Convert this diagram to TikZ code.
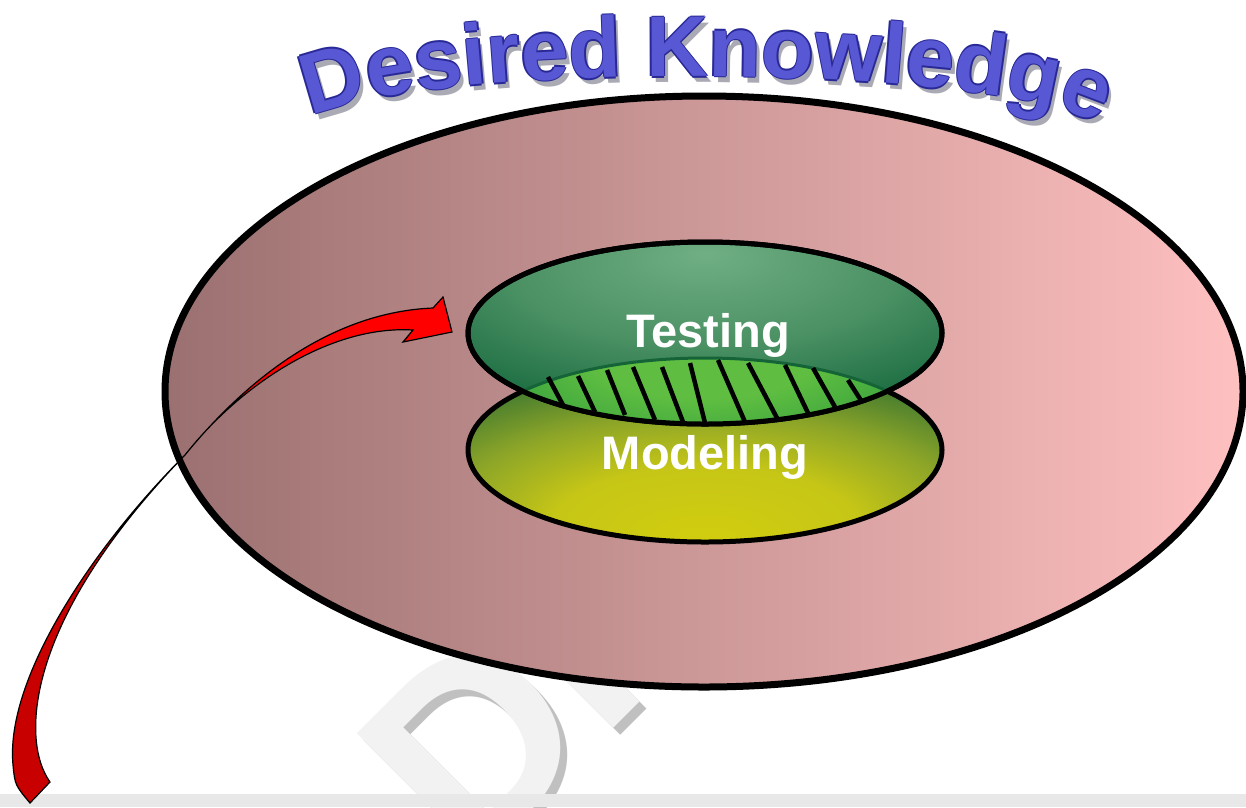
\documentclass[tikz,border=0pt]{standalone}
\usepackage{fontspec}
\setmainfont{Liberation Sans}
\usetikzlibrary{shapes.geometric,decorations.text}
\definecolor{titleblue}{RGB}{88,88,212}
\definecolor{titledark}{RGB}{40,40,150}
\definecolor{titleshadow}{RGB}{170,170,180}
\definecolor{roseL}{RGB}{155,112,112}
\definecolor{roseR}{RGB}{255,192,192}
\definecolor{lensline}{RGB}{20,100,55}
\definecolor{arrowred}{RGB}{255,0,0}
\definecolor{arrowdark}{RGB}{200,0,0}
\definecolor{wmlight}{RGB}{242,242,242}
\definecolor{wmdark}{RGB}{192,192,192}
\definecolor{barg}{RGB}{232,232,232}
\definecolor{tA}{RGB}{112,175,132}
\definecolor{tB}{RGB}{75,145,100}
\definecolor{tC}{RGB}{22,105,62}
\definecolor{tD}{RGB}{8,92,48}
\definecolor{mA}{RGB}{210,205,15}
\definecolor{mB}{RGB}{198,198,22}
\definecolor{mC}{RGB}{140,165,40}
\definecolor{mD}{RGB}{60,118,48}
\definecolor{mE}{RGB}{30,100,50}
\definecolor{lA}{RGB}{95,190,65}
\definecolor{lB}{RGB}{40,150,60}
\definecolor{lC}{RGB}{20,120,55}
\pgfdeclareradialshading{testshade}{\pgfpoint{0bp}{22bp}}{color(0bp)=(tA); color(20bp)=(tB); color(38bp)=(tC); color(50bp)=(tD); color(90bp)=(tD)}
\pgfdeclareradialshading{modshade}{\pgfpoint{0bp}{-25bp}}{color(0bp)=(mA); color(16bp)=(mB); color(27bp)=(mC); color(38bp)=(mD); color(50bp)=(mE); color(90bp)=(mE)}
\pgfdeclareradialshading{lensshade}{\pgfpoint{0bp}{30bp}}{color(0bp)=(lA); color(12bp)=(lA); color(28bp)=(lB); color(40bp)=(lC); color(90bp)=(lC)}
\newcommand\titlefont{\fontsize{86}{90}\selectfont\bfseries}
\newcommand\wmfont{\fontsize{258}{258}\selectfont\bfseries}
\newcommand\lblfont{\fontsize{47}{50}\selectfont\bfseries}
\tikzset{
  titlepath/.style={decorate, decoration={text along path, text={|\titlefont|Desired Knowledge}, text align=center, text color=#1}},
  wm/.style={rotate=45, anchor=base west, inner sep=0, font=\wmfont},
  lbl/.style={anchor=base, inner sep=0, text=white, font=\lblfont},
  innerell/.style={ellipse, draw=black, line width=5, minimum width=474, inner sep=0, shade},
  hatch/.style={line width=4.5, black},
  arrowbody/.style={draw=black, line width=1.2, line join=miter}
}
\begin{document}
\begin{tikzpicture}[x=1pt,y=1pt]
\useasboundingbox (0,0) rectangle (1246,-807);
% watermark
\node[wm, text=wmdark] (wmshadow) at (477,-879) {DR};
\node[wm, text=wmlight] (wmtext) at (470,-872) {DR};
\fill[barg] (0,-794) rectangle (1246,-807);
% title
\path[titlepath=titleshadow, shift={(4,-6)}] (305,-122) .. controls (380,-60) and (1030,-60) .. (1105,-130);
\path[titlepath=titledark, shift={(1.5,0)}] (305,-122) .. controls (380,-60) and (1030,-60) .. (1105,-130);
\path[titlepath=titledark, shift={(-1.5,0)}] (305,-122) .. controls (380,-60) and (1030,-60) .. (1105,-130);
\path[titlepath=titledark, shift={(0,1.5)}] (305,-122) .. controls (380,-60) and (1030,-60) .. (1105,-130);
\path[titlepath=titledark, shift={(0,-1.5)}] (305,-122) .. controls (380,-60) and (1030,-60) .. (1105,-130);
\path[titlepath=titleblue] (305,-122) .. controls (380,-60) and (1030,-60) .. (1105,-130);
% big ellipse
\node[ellipse, draw=black, line width=7, minimum width=1078, minimum height=591, inner sep=0, left color=roseL, right color=roseR] (know) at (704,-391.5) {};
% inner ellipses
\node[innerell, minimum height=184, shading=modshade] (model) at (705,-450) {};
\node[innerell, minimum height=182, shading=testshade] (test) at (705,-333) {};
% overlap
\begin{scope}
\clip (test.center) ellipse [x radius=237, y radius=91];
\shade[shading=lensshade] (model.center) ellipse [x radius=237, y radius=92];
\draw[lensline, line width=3] (model.center) ellipse [x radius=237, y radius=92];
\end{scope}
\draw[hatch] (548,-377) -- (563,-405);
\draw[hatch] (578,-376) -- (595,-412);
\draw[hatch] (607,-370) -- (625,-415);
\draw[hatch] (633,-367) -- (655,-420);
\draw[hatch] (662,-367) -- (683,-422);
\draw[hatch] (690,-363) -- (705,-423);
\draw[hatch] (718,-360) -- (745,-422);
\draw[hatch] (748,-363) -- (777,-418);
\draw[hatch] (785,-365) -- (808,-413);
\draw[hatch] (813,-368) -- (835,-407);
\draw[hatch] (848,-380) -- (862,-402);
\draw[line width=5] (test.center) ellipse [x radius=237, y radius=91];
% labels
\node[lbl] (tlabel) at (708,-347) {Testing};
\node[lbl] (mlabel) at (705,-469) {Modeling};
% curved arrow
\path[arrowbody, fill=arrowdark] (185,-455) .. controls (90,-550) and (5,-680) .. (13,-765) .. controls (15,-785) .. (30,-803) -- (50,-782) .. controls (20,-740) and (25,-620) .. (185,-455) -- cycle;
\path[arrowbody, fill=arrowred] (185,-455) .. controls (250,-375) and (335,-312) .. (433,-308) -- (443,-297) -- (452,-332) -- (403,-342) -- (413,-330) .. controls (330,-325) and (240,-385) .. (185,-455) -- cycle;
\end{tikzpicture}
\end{document}
